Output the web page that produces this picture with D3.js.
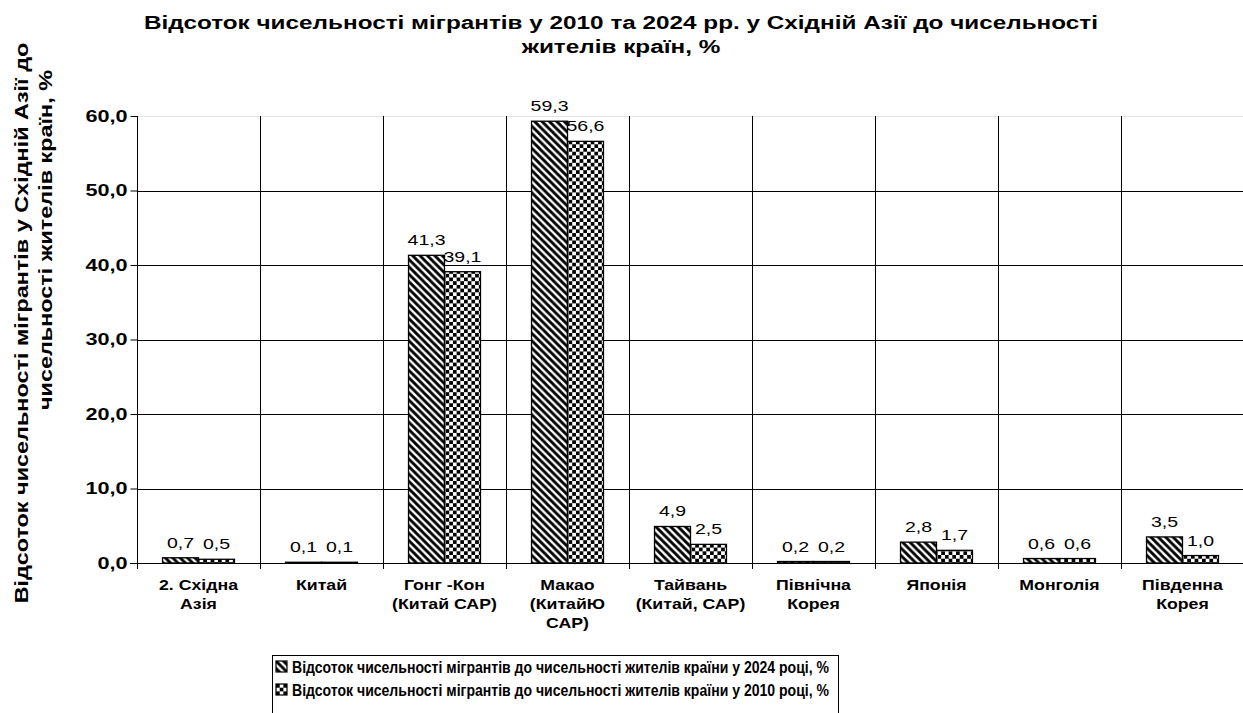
<!DOCTYPE html>
<html>
<head>
<meta charset="utf-8">
<script src="https://cdn.jsdelivr.net/npm/d3@7"></script>
<style>
  body { margin: 0; background: #fff; }
  svg { display: block; font-family: "Liberation Sans", Arial, sans-serif; }
</style>
</head>
<body>
<div id="chart"></div>
<script>
const categories = [
  ['2. Східна', 'Азія'],
  ['Китай'],
  ['Гонг -Кон', '(Китай САР)'],
  ['Макао', '(КитайЮ', 'САР)'],
  ['Тайвань', '(Китай, САР)'],
  ['Північна', 'Корея'],
  ['Японія'],
  ['Монголія'],
  ['Південна', 'Корея']
]
const values2024 = [0.7, 0.1, 41.3, 59.3, 4.9, 0.2, 2.8, 0.6, 3.5]
const values2010 = [0.5, 0.1, 39.1, 56.6, 2.5, 0.2, 1.7, 0.6, 1.0]
const yTicks = [0, 10, 20, 30, 40, 50, 60]
const seriesNames = [
  'Відсоток чисельності мігрантів до чисельності жителів країни у 2024 році, %',
  'Відсоток чисельності мігрантів до чисельності жителів країни у 2010 році, %'
]
const titleLines = [
  'Відсоток чисельності мігрантів у 2010 та 2024 рр. у Східній Азії до чисельності',
  'жителів країн, %'
]
const yTitleLines = [
  'Відсоток чисельності мігрантів у Східній Азії до',
  'чисельності жителів країн, %'
]

const W = 1243, H = 713
const PLOT = { LEFT: 137, RIGHT: 1244, TOP: 116, BOTTOM: 563 }

const locale = d3.formatLocale({ decimal: ',', thousands: ' ', grouping: [3], currency: ['', ''] })
const fmt = locale.format('.1f')

// the source renders its Arial text a little wide
function stretch(sel, k) {
  sel.each(function () {
    const n = this.getComputedTextLength()
    d3.select(this).attr('textLength', n * k).attr('lengthAdjust', 'spacingAndGlyphs')
  })
}

const svg = d3.select('#chart').append('svg')
  .attr('width', W).attr('height', H)

// patterns
const defs = svg.append('defs')
const diag = defs.append('pattern')
  .attr('id', 'diag').attr('patternUnits', 'userSpaceOnUse')
  .attr('width', 7.4).attr('height', 7.4)
diag.append('rect').attr('width', 7.4).attr('height', 7.4).attr('fill', '#fff')
diag.append('path')
  .attr('d', 'M-2,-2 L9.4,9.4 M-2,5.4 L2,9.4 M5.4,-2 L9.4,2')
  .attr('stroke', '#000').attr('stroke-width', 2.8)

const check = defs.append('pattern')
  .attr('id', 'check').attr('patternUnits', 'userSpaceOnUse')
  .attr('width', 7.4).attr('height', 7.4)
check.append('rect').attr('width', 7.4).attr('height', 7.4).attr('fill', '#fff')
check.append('rect').attr('width', 3.7).attr('height', 3.7).attr('fill', '#000')
check.append('rect').attr('x', 3.7).attr('y', 3.7).attr('width', 3.7).attr('height', 3.7).attr('fill', '#000')

const fills = ['url(#diag)', 'url(#check)']

const x = d3.scaleBand()
  .domain(d3.range(categories.length))
  .range([PLOT.LEFT, PLOT.RIGHT])
  .paddingInner(0.415)
  .paddingOuter(0.2075)
const xSub = d3.scaleBand().domain([0, 1]).range([0, x.bandwidth()])
const y = d3.scaleLinear().domain([0, 60]).range([PLOT.BOTTOM, PLOT.TOP])

// horizontal gridlines
svg.append('g').selectAll('line')
  .data(yTicks.filter(d => d > 0))
  .join('line')
    .attr('x1', PLOT.LEFT).attr('x2', PLOT.RIGHT)
    .attr('y1', d => Math.round(y(d)) + 0.5).attr('y2', d => Math.round(y(d)) + 0.5)
    .attr('stroke', d => d === 60 ? '#e3e3e3' : '#000')
    .attr('stroke-width', 1)

// vertical category separators
const step = x.step()
svg.append('g').selectAll('line')
  .data(d3.range(1, categories.length))
  .join('line')
    .attr('x1', i => Math.round(PLOT.LEFT + step * i) + 0.5)
    .attr('x2', i => Math.round(PLOT.LEFT + step * i) + 0.5)
    .attr('y1', PLOT.TOP).attr('y2', PLOT.BOTTOM + 6)
    .attr('stroke', '#000')

// y axis
const yAxis = d3.axisLeft(y).tickValues(yTicks).tickSize(7).tickPadding(3).tickFormat(fmt)
const yG = svg.append('g')
  .attr('transform', `translate(${PLOT.LEFT + 0.5},0)`)
  .call(yAxis)
yG.select('.domain').attr('d', `M0,${PLOT.TOP}V${PLOT.BOTTOM + 6}`).attr('stroke', '#000')
yG.selectAll('.tick line').attr('stroke', '#000')
yG.selectAll('.tick text')
  .attr('font-family', '"Liberation Sans", Arial, sans-serif')
  .attr('font-size', 16).attr('font-weight', 'bold').attr('fill', '#000')
  .call(stretch, 1.35)

// bars
const series = [values2024, values2010]
const groups = svg.append('g').selectAll('g')
  .data(categories.map((c, i) => i))
  .join('g')
    .attr('transform', i => `translate(${x(i)},0)`)

groups.selectAll('rect')
  .data(i => series.map((s, k) => ({ k, v: s[i] })))
  .join('rect')
    .attr('x', d => xSub(d.k))
    .attr('y', d => y(d.v))
    .attr('width', xSub.bandwidth())
    .attr('height', d => y(0) - y(d.v))
    .attr('fill', d => fills[d.k])
    .attr('stroke', '#000')
    .attr('stroke-width', 1.3)

groups.selectAll('text.val')
  .data(i => series.map((s, k) => ({ k, v: s[i] })))
  .join('text')
    .attr('class', 'val')
    .attr('x', d => xSub(d.k) + xSub.bandwidth() / 2)
    .attr('y', d => y(d.v) - 10)
    .attr('text-anchor', 'middle')
    .attr('font-size', 15)
    .text(d => fmt(d.v))
    .call(stretch, 1.3)

// x axis line
svg.append('line')
  .attr('x1', PLOT.LEFT - 7).attr('x2', PLOT.RIGHT)
  .attr('y1', PLOT.BOTTOM + 0.5).attr('y2', PLOT.BOTTOM + 0.5)
  .attr('stroke', '#000')

// category labels
svg.append('g').selectAll('text')
  .data(categories.map((c, i) => i))
  .join('text')
    .attr('x', i => x(i) + x.bandwidth() / 2)
    .attr('y', 590)
    .attr('text-anchor', 'middle')
    .attr('font-size', 15).attr('font-weight', 'bold')
    .selectAll('tspan')
    .data(i => categories[i])
    .join('tspan')
      .attr('x', function () { return d3.select(this.parentNode).attr('x') })
      .attr('dy', (d, j) => j === 0 ? 0 : 19)
      .text(d => d)
      .call(stretch, 1.18)

// title
svg.append('text')
  .attr('x', 621).attr('y', 29)
  .attr('text-anchor', 'middle')
  .attr('font-size', 18).attr('font-weight', 'bold')
  .selectAll('tspan')
  .data(titleLines)
  .join('tspan')
    .attr('x', 621)
    .attr('dy', (d, j) => j === 0 ? 0 : 24)
    .text(d => d)
    .call(stretch, 1.35)

// y axis title, two lines
const yTitleCenters = [323, 240]
svg.append('g').selectAll('text')
  .data(yTitleLines)
  .join('text')
    .attr('transform', (d, j) => `translate(${28 + j * 24},${yTitleCenters[j]}) rotate(-90)`)
    .attr('text-anchor', 'middle')
    .attr('font-size', 18).attr('font-weight', 'bold')
    .text(d => d)
    .call(stretch, 1.3)

// legend
const legend = svg.append('g')
legend.append('rect')
  .attr('x', 272.5).attr('y', 655.5)
  .attr('width', 566).attr('height', 62)
  .attr('fill', '#fff').attr('stroke', '#000')
const items = legend.selectAll('g')
  .data(seriesNames)
  .join('g')
    .attr('transform', (d, k) => `translate(276,${661 + k * 23})`)
items.append('rect')
  .attr('width', 11).attr('height', 11)
  .attr('fill', (d, k) => fills[k])
  .attr('stroke', '#000').attr('stroke-width', 1.2)
items.append('text')
  .attr('x', 16).attr('y', 12)
  .attr('font-size', 16.5).attr('font-weight', 'bold')
  .attr('textLength', 537).attr('lengthAdjust', 'spacingAndGlyphs')
  .text(d => d)
</script>
</body>
</html>
